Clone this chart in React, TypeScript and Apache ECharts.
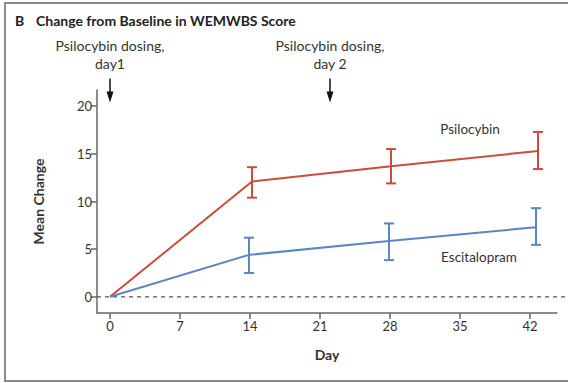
import React, { useEffect, useRef } from "react";
import * as echarts from "echarts";

const dayTicks = [0, 7, 14, 21, 28, 35, 42];
const scoreTicks = [0, 5, 10, 15, 20];

const psilocybinDays = [0, 14.2, 28.1, 42.8];
const psilocybinMean = [0, 12.1, 13.7, 15.3];
const psilocybinLow = [null, 10.4, 11.9, 13.4];
const psilocybinHigh = [null, 13.6, 15.5, 17.3];

const escitalopramDays = [0, 13.9, 27.9, 42.6];
const escitalopramMean = [0, 4.4, 5.85, 7.3];
const escitalopramLow = [null, 2.5, 3.85, 5.45];
const escitalopramHigh = [null, 6.2, 7.7, 9.3];

const dosingDays = [0, 22];
const dosingLabels = ["Psilocybin dosing,\nday1", "Psilocybin dosing,\nday 2"];

const RED = "#d04a3c";
const BLUE = "#5b86c4";
const AXIS = "#666666";
const TEXT = "#333333";
const FONT = "Lato, 'Open Sans', sans-serif";

function errorSeries(name: string, days: number[], low: (number | null)[], high: (number | null)[], color: string) {
  const data: number[][] = [];
  days.forEach((d, i) => {
    if (low[i] != null && high[i] != null) data.push([d, low[i] as number, high[i] as number]);
  });
  return {
    type: "custom",
    name,
    xAxisIndex: 0,
    yAxisIndex: 0,
    z: 3,
    data,
    renderItem: (params: any, api: any) => {
      const x = api.value(0);
      const lo = api.coord([x, api.value(1)]);
      const hi = api.coord([x, api.value(2)]);
      const cap = 5;
      const style = { stroke: color, lineWidth: 2, fill: "none" };
      return {
        type: "group",
        children: [
          { type: "line", shape: { x1: lo[0], y1: lo[1], x2: hi[0], y2: hi[1] }, style },
          { type: "line", shape: { x1: lo[0] - cap, y1: lo[1], x2: lo[0] + cap, y2: lo[1] }, style },
          { type: "line", shape: { x1: hi[0] - cap, y1: hi[1], x2: hi[0] + cap, y2: hi[1] }, style },
        ],
      };
    },
  };
}

export default function App() {
  const ref = useRef<HTMLDivElement>(null);
  useEffect(() => {
    document.body.style.margin = "0";
    if (!ref.current) return;
    const chart = echarts.init(ref.current, null, { renderer: "svg" });

    const yMin = -1.7;
    const yMax = 21.7;

    const option: any = {
      animation: false,
      backgroundColor: "#ffffff",
      textStyle: { fontFamily: FONT },
      grid: [
        { left: 97, top: 90, width: 460, height: 223 },
        { left: 97, top: 90, width: 471, height: 223 },
      ],
      xAxis: [
        {
          gridIndex: 0,
          type: "value",
          min: -1.3,
          max: 44.7,
          name: "Day",
          nameLocation: "middle",
          nameGap: 34,
          nameTextStyle: { fontFamily: FONT, fontWeight: "bold", fontSize: 14, color: TEXT },
          axisLine: { show: true, onZero: false, lineStyle: { color: AXIS, width: 1.5 } },
          axisTick: { show: true, inside: false, length: 6, customValues: dayTicks, lineStyle: { color: AXIS, width: 1.5 } },
          axisLabel: { customValues: dayTicks, fontFamily: FONT, fontSize: 13, color: TEXT, margin: 6 },
          splitLine: { show: false },
        },
        { gridIndex: 1, type: "value", min: -1.3, max: 45.8, show: false },
      ],
      yAxis: [
        {
          gridIndex: 0,
          type: "value",
          min: yMin,
          max: yMax,
          name: "Mean Change",
          nameLocation: "middle",
          nameGap: 52,
          nameRotate: 90,
          nameTextStyle: { fontFamily: FONT, fontWeight: "bold", fontSize: 14, color: TEXT },
          axisLine: { show: true, onZero: false, lineStyle: { color: AXIS, width: 1.5 } },
          axisTick: { show: true, inside: false, length: 6, customValues: scoreTicks, lineStyle: { color: AXIS, width: 1.5 } },
          axisLabel: { customValues: scoreTicks, fontFamily: FONT, fontSize: 13, color: TEXT, margin: 5 },
          splitLine: { show: false },
        },
        { gridIndex: 1, type: "value", min: yMin, max: yMax, show: false },
      ],
      series: [
        {
          type: "line",
          name: "baseline",
          xAxisIndex: 1,
          yAxisIndex: 1,
          data: [[-1.3, 0], [45.8, 0]],
          symbol: "none",
          lineStyle: { color: "#555555", width: 1.2, type: [4, 4] },
          silent: true,
          z: 1,
        },
        {
          type: "line",
          name: "Psilocybin",
          xAxisIndex: 0,
          yAxisIndex: 0,
          data: psilocybinDays.map((d, i) => [d, psilocybinMean[i]]),
          symbol: "none",
          lineStyle: { color: RED, width: 2 },
          z: 4,
          markPoint: {
            symbol: "circle",
            symbolSize: 0,
            label: { show: true, position: "inside", formatter: "{b}", fontFamily: FONT, fontSize: 13.5, color: TEXT },
            data: [{ name: "Psilocybin", coord: [36, 17.6] }],
          },
        },
        {
          type: "line",
          name: "Escitalopram",
          xAxisIndex: 0,
          yAxisIndex: 0,
          data: escitalopramDays.map((d, i) => [d, escitalopramMean[i]]),
          symbol: "none",
          lineStyle: { color: BLUE, width: 2 },
          z: 4,
          markPoint: {
            symbol: "circle",
            symbolSize: 0,
            label: { show: true, position: "inside", formatter: "{b}", fontFamily: FONT, fontSize: 13.5, color: TEXT },
            data: [{ name: "Escitalopram", coord: [36.9, 4.2] }],
          },
        },
        errorSeries("Psilocybin error", psilocybinDays, psilocybinLow, psilocybinHigh, RED),
        errorSeries("Escitalopram error", escitalopramDays, escitalopramLow, escitalopramHigh, BLUE),
        {
          type: "custom",
          name: "dosing arrows",
          xAxisIndex: 0,
          yAxisIndex: 0,
          clip: false,
          silent: true,
          z: 5,
          data: dosingDays.map((d) => [d]),
          renderItem: (params: any, api: any) => {
            const d = api.value(0);
            const top = api.coord([d, 22.9]);
            const tip = api.coord([d, 20.4]);
            return {
              type: "group",
              children: [
                { type: "line", shape: { x1: top[0], y1: top[1], x2: tip[0], y2: tip[1] - 6 }, style: { stroke: "#111", lineWidth: 1.5 } },
                {
                  type: "polygon",
                  shape: { points: [[tip[0] - 3.5, tip[1] - 11], [tip[0] + 3.5, tip[1] - 11], [tip[0], tip[1]]] },
                  style: { fill: "#111" },
                },
              ],
            };
          },
        },
      ],
      graphic: [
        { type: "rect", shape: { x: 5, y: 3, width: 600, height: 378 }, style: { fill: "none", stroke: "#8a8a8a", lineWidth: 2 }, silent: true },
        { type: "text", x: 15, y: 20, style: { text: "B", fontFamily: FONT, fontWeight: "bold", fontSize: 14, fill: "#222", verticalAlign: "middle" } },
        { type: "text", x: 36, y: 20, style: { text: "Change from Baseline in WEMWBS Score", fontFamily: FONT, fontWeight: "bold", fontSize: 14, fill: "#222", verticalAlign: "middle" } },
        { type: "text", x: 110, y: 54, style: { text: dosingLabels[0], fontFamily: FONT, fontSize: 14, lineHeight: 18, fill: TEXT, align: "center", verticalAlign: "middle" } },
        { type: "text", x: 330, y: 54, style: { text: dosingLabels[1], fontFamily: FONT, fontSize: 14, lineHeight: 18, fill: TEXT, align: "center", verticalAlign: "middle" } },
      ],
    };
    chart.setOption(option);
    return () => chart.dispose();
  }, []);
  return <div ref={ref} style={{ width: 568, height: 383 }} />;
}
